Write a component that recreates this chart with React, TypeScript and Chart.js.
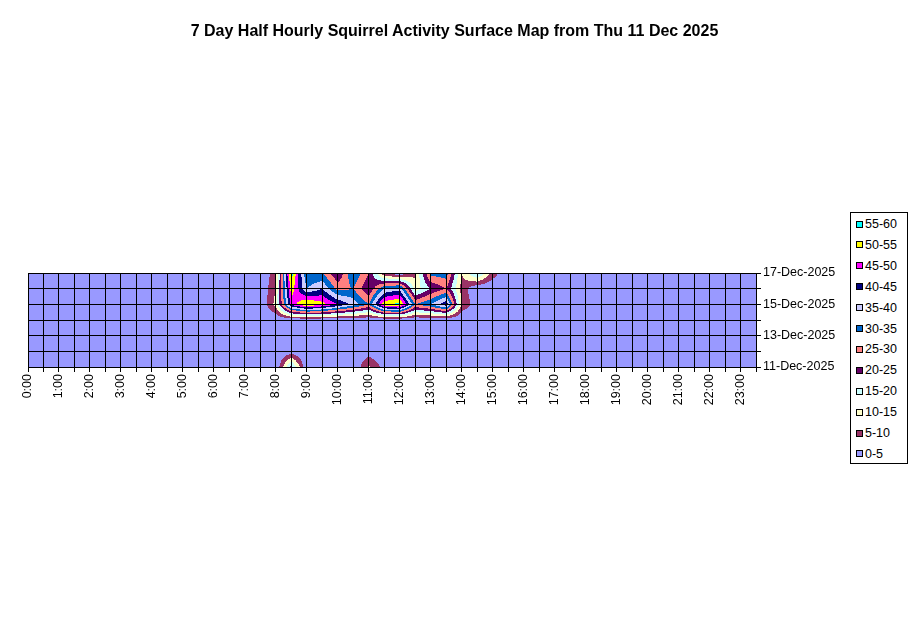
import React, { useEffect, useRef } from "react";
import { Chart, registerables } from "chart.js";

Chart.register(...registerables);

const chartTitle = "7 Day Half Hourly Squirrel Activity Surface Map from Thu 11 Dec 2025";

const hourLabels = [
  "0:00", "1:00", "2:00", "3:00", "4:00", "5:00", "6:00", "7:00", "8:00", "9:00", "10:00", "11:00",
  "12:00", "13:00", "14:00", "15:00", "16:00", "17:00", "18:00", "19:00", "20:00", "21:00", "22:00", "23:00",
];

const dayLabels = [
  "11-Dec-2025", "12-Dec-2025", "13-Dec-2025", "14-Dec-2025", "15-Dec-2025", "16-Dec-2025", "17-Dec-2025",
];

// 48 half-hour slots per day (0:00 .. 23:30)
const dec11 = [0,0,0,0,0,0,0,0,0,0,0,0,0,0,0,0, 0,22,0,0,0,0,11,3,0,0,0,0,0,0,0,0, 0,0,0,0,0,0,0,0,0,0,0,0,0,0,0,0];
const dec12 = [0,0,0,0,0,0,0,0,0,0,0,0,0,0,0,0, 0,2,0,0,0,0,2,0,0,0,0,0,0,0,0,0, 0,0,0,0,0,0,0,0,0,0,0,0,0,0,0,0];
const dec13 = [0,0,0,0,0,0,0,0,0,0,0,0,0,0,0,0, 0,0,0,0,0,0,0,0,0,0,0,0,0,0,0,0, 0,0,0,0,0,0,0,0,0,0,0,0,0,0,0,0];
const dec14 = [0,0,0,0,0,0,0,0,0,0,0,0,0,0,0,0, 0,0,0,0,0,0,0,0,0,0,0,0,0,0,0,0, 0,0,0,0,0,0,0,0,0,0,0,0,0,0,0,0];
const dec15 = [0,0,0,0,0,0,0,0,0,0,0,0,0,0,0,0, 12,47,56,52,45,38,30,54,57,30,35,44,9,2,0,0, 0,0,0,0,0,0,0,0,0,0,0,0,0,0,0,0];
const dec16 = [0,0,0,0,0,0,0,0,0,0,0,0,0,0,0,0, 10,53,35,40,28,30,20,35,38,12,20,25,8,0,0,0, 0,0,0,0,0,0,0,0,0,0,0,0,0,0,0,0];
const dec17 = [0,0,0,0,0,0,0,0,0,0,0,0,0,0,0,0, 8,58,30,30,20,35,25,5,0,9,32,33,10,22,8,0, 0,0,0,0,0,0,0,0,0,0,0,0,0,0,0,0];

const dayRows = [dec11, dec12, dec13, dec14, dec15, dec16, dec17];

const bandLabels = ["0-5", "5-10", "10-15", "15-20", "20-25", "25-30", "30-35", "35-40", "40-45", "45-50", "50-55", "55-60"];
const bandColors = ["#9999FF", "#993366", "#FFFFCC", "#CCFFFF", "#660066", "#FF8080", "#0066CC", "#CCCCFF", "#000080", "#FF00FF", "#FFFF00", "#00FFFF"];
const bandStep = 5;

const FONT = 'Arial, "Liberation Sans", sans-serif';

function hexToRgb(h: string) {
  const n = parseInt(h.slice(1), 16);
  return [(n >> 16) & 255, (n >> 8) & 255, n & 255];
}

const contourPlugin = {
  id: "contour",
  beforeDraw(chart: any) {
    const { ctx, chartArea: a, scales } = chart;
    const xs = scales.x;
    const ys = scales.y;
    const left = Math.round(a.left);
    const top = Math.round(a.top);
    const w = Math.round(a.right) - left;
    const h = Math.round(a.bottom) - top;
    const off = document.createElement("canvas");
    off.width = w;
    off.height = h;
    const octx = off.getContext("2d")!;
    const img = octx.createImageData(w, h);
    const rgb = bandColors.map(hexToRgb);
    const nx = dayRows[0].length;
    const ny = dayRows.length;
    for (let py = 0; py < h; py++) {
      let yv = ys.getValueForPixel(top + py + 0.5);
      yv = Math.max(0, Math.min(ny - 1, yv));
      let j = Math.floor(yv);
      if (j > ny - 2) j = ny - 2;
      const fy = yv - j;
      for (let px = 0; px < w; px++) {
        let xv = xs.getValueForPixel(left + px + 0.5);
        xv = Math.max(0, Math.min(nx - 1, xv));
        let i = Math.floor(xv);
        if (i > nx - 2) i = nx - 2;
        const fx = xv - i;
        const v00 = dayRows[j][i], v10 = dayRows[j][i + 1];
        const v01 = dayRows[j + 1][i], v11 = dayRows[j + 1][i + 1];
        const v = (v00 * (1 - fx) + v10 * fx) * (1 - fy) + (v01 * (1 - fx) + v11 * fx) * fy;
        let b = Math.floor(v / bandStep);
        if (b < 0) b = 0;
        if (b > bandColors.length - 1) b = bandColors.length - 1;
        const c = rgb[b];
        const k = (py * w + px) * 4;
        img.data[k] = c[0];
        img.data[k + 1] = c[1];
        img.data[k + 2] = c[2];
        img.data[k + 3] = 255;
      }
    }
    octx.putImageData(img, 0, 0);
    ctx.save();
    ctx.drawImage(off, left, top);
    ctx.restore();
  },
};

export default function App() {
  const ref = useRef<HTMLCanvasElement | null>(null);

  useEffect(() => {
    if (!ref.current) return;
    const chart = new Chart(ref.current, {
      type: "scatter",
      data: { datasets: [{ data: [] }] },
      plugins: [contourPlugin],
      options: {
        responsive: false,
        animation: false,
        events: [],
        layout: { padding: { left: 28, top: 273, right: 75, bottom: 216 } },
        plugins: { legend: { display: false }, tooltip: { enabled: false }, title: { display: false } },
        scales: {
          x: {
            type: "linear",
            position: "bottom",
            min: 0,
            max: dayRows[0].length - 1,
            afterFit: (s: any) => { s.height = 40; },
            ticks: {
              stepSize: 1,
              autoSkip: false,
              minRotation: 90,
              maxRotation: 90,
              padding: 2,
              color: "#000",
              font: { family: FONT, size: 12.5 },
              callback: (v: any) => (Number(v) % 2 === 0 ? hourLabels[Number(v) / 2] : ""),
            },
            grid: { color: "#000", lineWidth: 1, tickLength: 5, drawTicks: true },
            border: { color: "#000", width: 1 },
          },
          y: {
            type: "linear",
            position: "right",
            min: 0,
            max: dayRows.length - 1,
            afterFit: (s: any) => { s.width = 80; },
            ticks: {
              stepSize: 1,
              autoSkip: false,
              padding: 2,
              color: "#000",
              font: { family: FONT, size: 12.5 },
              callback: (v: any) => (Number(v) % 2 === 0 ? dayLabels[Number(v)] : ""),
            },
            grid: { color: "#000", lineWidth: 1, tickLength: 5, drawTicks: true },
            border: { color: "#000", width: 1 },
          },
        },
      } as any,
    });
    return () => chart.destroy();
  }, []);

  const legendItems = bandLabels.map((l, i) => ({ label: l, color: bandColors[i] })).reverse();

  return (
    <div style={{ position: "fixed", left: 0, top: 0, width: 911, height: 623, background: "#fff", overflow: "hidden" }}>
      <canvas ref={ref} width={911} height={623} style={{ display: "block", position: "absolute", left: 0, top: 0 }} />
      <div
        style={{
          position: "absolute", left: 0, top: 22, width: 909, textAlign: "center",
          fontFamily: FONT, fontWeight: "bold", fontSize: 16, lineHeight: "18px", color: "#000",
        }}
      >
        {chartTitle}
      </div>
      <div
        style={{
          position: "absolute", left: 850, top: 212, width: 56, height: 250,
          border: "1px solid #000", background: "#fff", boxSizing: "content-box",
        }}
      >
        {legendItems.map((it, i) => (
          <div key={it.label} style={{ position: "absolute", left: 5, top: 3 + i * 20.9, height: 16, display: "flex", alignItems: "center" }}>
            <div style={{ width: 5, height: 5, border: "1px solid #000", background: it.color, marginRight: 2 }} />
            <span style={{ fontFamily: FONT, fontSize: 12.5, color: "#000", lineHeight: "16px" }}>{it.label}</span>
          </div>
        ))}
      </div>
    </div>
  );
}
